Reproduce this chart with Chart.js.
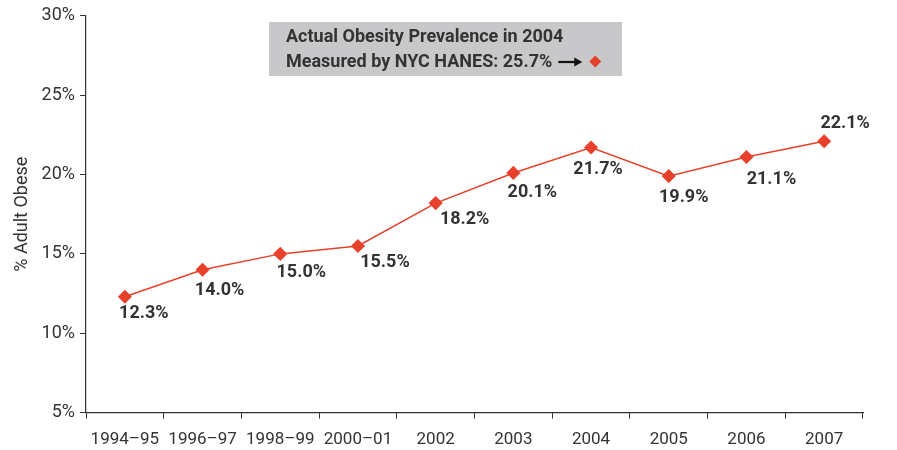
<!DOCTYPE html>
<html>
<head>
<meta charset="utf-8">
<script src="https://cdn.jsdelivr.net/npm/chart.js@4/dist/chart.umd.min.js"></script>
<style>
  html, body { margin: 0; padding: 0; background: #fff; }
  #wrap { width: 897px; height: 450px; }
</style>
</head>
<body>
<div id="wrap"><canvas id="obesityChart"></canvas></div>
<script>
// données
const periods = ['1994\u201395', '1996\u201397', '1998\u201399', '2000\u201301', '2002', '2003', '2004', '2005', '2006', '2007'];
const obesePct = [12.3, 14.0, 15.0, 15.5, 18.2, 20.1, 21.7, 19.9, 21.1, 22.1];
const yTicks = [5, 10, 15, 20, 25, 30];
const noteLines = ['Actual Obesity Prevalence in 2004', 'Measured by NYC HANES: 25.7%'];

const red = '#e8412b';
const dark = '#333333';
const fontFam = 'Roboto, "Liberation Sans", sans-serif';

// décalage de chaque étiquette par rapport à son point (centre du texte)
const labelShift = [[19, 17], [17, 21], [21, 19], [27, 17], [29, 16], [19, 20], [7, 22], [15, 21], [25, 22], [21, -18]];

const valueLabels = {
    id: 'valueLabels',
    afterDatasetsDraw(chart) {
        const ctx = chart.ctx;
        const pts = chart.getDatasetMeta(0).data;
        ctx.save();
        ctx.font = 'bold 18px ' + fontFam;
        ctx.fillStyle = dark;
        ctx.textAlign = 'center';
        ctx.textBaseline = 'middle';
        pts.forEach((p, i) => {
            const s = labelShift[i];
            ctx.fillText(obesePct[i].toFixed(1) + '%', p.x + s[0], p.y + s[1]);
        });
        ctx.restore();
    }
};

// encadré gris avec la note HANES
const noteBox = {
    id: 'noteBox',
    afterDraw(chart) {
        const ctx = chart.ctx;
        ctx.save();
        ctx.fillStyle = '#c8c8ca';
        ctx.fillRect(269, 22, 353, 54);
        ctx.font = 'bold 18px ' + fontFam;
        ctx.fillStyle = dark;
        ctx.textAlign = 'left';
        ctx.textBaseline = 'middle';
        ctx.fillText(noteLines[0], 286, 37);
        ctx.fillText(noteLines[1], 286, 62);
        const w = ctx.measureText(noteLines[1]).width;
        const ax = 286 + w + 6;
        // flèche
        ctx.strokeStyle = '#111';
        ctx.lineWidth = 2.2;
        ctx.beginPath();
        ctx.moveTo(ax, 62);
        ctx.lineTo(ax + 18, 62);
        ctx.stroke();
        ctx.fillStyle = '#111';
        ctx.beginPath();
        ctx.moveTo(ax + 24, 62);
        ctx.lineTo(ax + 16, 57.5);
        ctx.lineTo(ax + 16, 66.5);
        ctx.closePath();
        ctx.fill();
        // losange
        const dx = ax + 37;
        ctx.fillStyle = red;
        ctx.beginPath();
        ctx.moveTo(dx, 55.5);
        ctx.lineTo(dx + 6, 61.5);
        ctx.lineTo(dx, 67.5);
        ctx.lineTo(dx - 6, 61.5);
        ctx.closePath();
        ctx.fill();
        ctx.restore();
    }
};

const ctx = document.getElementById('obesityChart').getContext('2d');
const obesityChart = new Chart(ctx, {
    type: 'line',
    data: {
        labels: periods,
        datasets: [{
            data: obesePct,
            borderColor: red,
            backgroundColor: red,
            borderWidth: 1.5,
            pointStyle: 'rectRot',
            pointRadius: 6,
            pointBackgroundColor: red,
            pointBorderColor: red,
            tension: 0
        }]
    },
    options: {
        responsive: true,
        maintainAspectRatio: false,
        animation: false,
        layout: { padding: { top: 11, right: 34, left: 8, bottom: -11 } },
        plugins: {
            legend: { display: false },
            tooltip: { enabled: false }
        },
        scales: {
            x: {
                offset: true,
                grid: {
                    offset: true,
                    drawOnChartArea: false,
                    drawTicks: true,
                    tickLength: 6,
                    color: dark
                },
                border: { color: dark, width: 1.2 },
                ticks: {
                    color: dark,
                    font: { family: fontFam, size: 17 },
                    padding: 11,
                    maxRotation: 0,
                    autoSkip: false
                }
            },
            y: {
                min: 5,
                max: 30,
                afterBuildTicks(axis) {
                    axis.ticks = yTicks.map(v => ({ value: v }));
                },
                grid: {
                    drawOnChartArea: false,
                    drawTicks: true,
                    tickLength: 6,
                    color: dark
                },
                border: { color: dark, width: 1.2 },
                ticks: {
                    color: dark,
                    font: { family: fontFam, size: 18 },
                    padding: 5,
                    callback: v => v + '%'
                },
                title: {
                    display: true,
                    text: '% Adult Obese',
                    color: dark,
                    font: { family: fontFam, size: 18 },
                    padding: { bottom: 3 }
                }
            }
        }
    },
    plugins: [valueLabels, noteBox]
});
</script>
</body>
</html>
